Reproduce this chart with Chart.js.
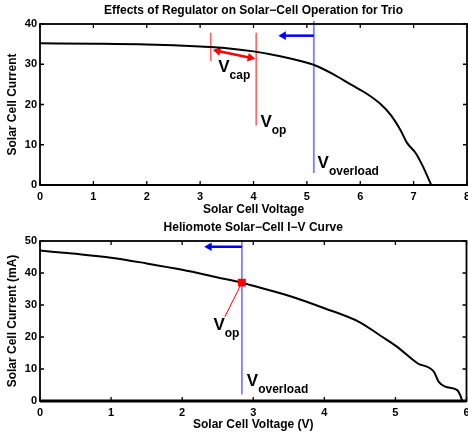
<!DOCTYPE html>
<html lang="en">
<head>
<meta charset="UTF-8">
<title>Solar Cell I-V Curves</title>
<script src="https://cdn.jsdelivr.net/npm/chart.js"></script>
<style>
    html, body { margin: 0; background: #fff; overflow: hidden; }
    /* a bit wider than the window so the last tick label is cut like in the original */
    .panel { position: absolute; left: 0; width: 472px; }
    #top { top: 0; height: 220px; }
    #bottom { top: 220px; height: 219px; }
</style>
</head>
<body>
<div class="panel" id="top"><canvas id="trioChart"></canvas></div>
<div class="panel" id="bottom"><canvas id="heliChart"></canvas></div>
<script>
// --- Trio panel (top) ---
const trioVoltage = [0, 1, 2, 3, 3.5, 4, 4.5, 4.88, 5.16, 5.5, 5.82, 6.13, 6.38, 6.57, 6.75, 6.88, 7.04, 7.16, 7.33];
const trioCurrent = [35.2, 35.1, 34.9, 34.4, 34.0, 33.2, 32.0, 30.8, 29.7, 27.5, 25.0, 22.6, 20.1, 17.4, 13.7, 10.4, 7.9, 5.0, 0];
const trioCapV = [3.2, 3.2];          const trioCapI = [37.8, 30.8];
const trioOpV = [4.05, 4.05];         const trioOpI = [37.8, 14.8];
const trioOverV = [5.13, 5.13];       const trioOverI = [40.8, 3];
const trioArrowV = [5.13, 4.56];      const trioArrowI = [37.1, 37.1];
const trioSpanV = [3.33, 3.94];       const trioSpanI = [33.3, 31.6];
const trioLabelV = [3.34, 4.13, 5.2];
const trioLabelI = [28.1, 14.4, 4.2];
const trioLabelSub = ['cap', 'op', 'overload'];
const trioXTicks = [0, 8];            const trioYTicks = [0, 40];

// --- Heliomote panel (bottom) ---
const heliVoltage = [0, 0.5, 1, 1.5, 2, 2.5, 2.83, 3, 3.5, 4, 4.5, 4.79, 5.02, 5.31, 5.54, 5.61, 5.7, 5.87, 5.91, 5.94];
const heliCurrent = [47.0, 46.0, 44.8, 43.0, 41.0, 38.6, 37.0, 36.0, 32.9, 29.0, 24.6, 20.4, 17.0, 11.8, 9.2, 6.0, 4.5, 3.4, 1.9, 0];
const heliOpV = [2.84];               const heliOpI = [37.0];
const heliOverV = [2.84, 2.84];       const heliOverI = [50, 2];
const heliArrowV = [2.84, 2.38];      const heliArrowI = [48.2, 48.2];
const heliLeadV = [2.84, 2.6];        const heliLeadI = [37.0, 26.3];
const heliLabelV = [2.44, 2.91];
const heliLabelI = [22.2, 4.8];
const heliLabelSub = ['op', 'overload'];
const heliXTicks = [0, 6];            const heliYTicks = [0, 50];

const FONT = '"Liberation Sans", Arial, sans-serif';
const pts = (xs, ys) => xs.map((v, i) => ({ x: v, y: ys[i] }));

// box around the plot with inward tick marks
const framePlugin = {
    id: 'frame',
    afterDatasetsDraw(chart, args, opts) {
        const { ctx, chartArea: a, scales: { x, y } } = chart;
        ctx.save();
        ctx.strokeStyle = '#000';
        ctx.lineWidth = 1.3;
        ctx.beginPath();
        x.ticks.forEach(t => {
            const px = x.getPixelForValue(t.value);
            ctx.moveTo(px, a.bottom); ctx.lineTo(px, a.bottom - 4);
            ctx.moveTo(px, a.top); ctx.lineTo(px, a.top + 4);
        });
        y.ticks.forEach(t => {
            const py = y.getPixelForValue(t.value);
            ctx.moveTo(a.left, py); ctx.lineTo(a.left + 4, py);
            ctx.moveTo(a.right, py); ctx.lineTo(a.right - 4, py);
        });
        ctx.stroke();
        ctx.lineWidth = 1.8;
        ctx.strokeRect(a.left, a.top, a.right - a.left, a.bottom - a.top);
        ctx.lineWidth = opts.baseWidth || 2;
        ctx.beginPath();
        ctx.moveTo(a.left, a.bottom); ctx.lineTo(a.right, a.bottom);
        ctx.stroke();
        ctx.restore();
    }
};

// "V" with a subscript, placed in data coordinates
const subLabelPlugin = {
    id: 'subLabels',
    afterDatasetsDraw(chart, args, opts) {
        const { ctx, scales: { x, y } } = chart;
        ctx.save();
        ctx.fillStyle = '#000';
        ctx.textBaseline = 'alphabetic';
        ctx.textAlign = 'left';
        opts.xs.forEach((v, i) => {
            const px = x.getPixelForValue(v);
            const py = y.getPixelForValue(opts.ys[i]);
            ctx.font = 'bold 17px ' + FONT;
            ctx.fillText('V', px, py);
            const w = ctx.measureText('V').width;
            ctx.font = 'bold 12px ' + FONT;
            ctx.fillText(opts.subs[i], px + w, py + 7);
        });
        ctx.restore();
    }
};

function lineSet(data, color, width, extra) {
    return Object.assign({
        data: data,
        borderColor: color,
        backgroundColor: color,
        borderWidth: width,
        pointRadius: 0,
        fill: false
    }, extra || {});
}

function arrowSet(data, color, radii, rotations) {
    return lineSet(data, color, 2.5, {
        pointStyle: 'triangle',
        pointRadius: radii,
        pointRotation: rotations,
        pointBackgroundColor: color,
        pointBorderColor: color,
        pointBorderWidth: 0
    });
}

function makeOptions(cfg) {
    return {
        responsive: true,
        maintainAspectRatio: false,
        animation: false,
        layout: { padding: { left: 0, right: 2, top: 0, bottom: 0 } },
        plugins: {
            legend: { display: false },
            tooltip: { enabled: false },
            title: {
                display: true,
                fullSize: false,
                text: cfg.title,
                color: '#000',
                font: { family: FONT, size: 12, weight: 'bold' },
                padding: cfg.titlePad
            },
            frame: { baseWidth: cfg.baseWidth },
            subLabels: cfg.labels
        },
        scales: {
            x: {
                type: 'linear',
                min: cfg.xTicks[0], max: cfg.xTicks[1],
                grid: { display: false, drawTicks: false },
                border: { display: false },
                ticks: { stepSize: 1, padding: 5, color: '#000', font: { family: FONT, size: 11, weight: 'bold' } },
                title: {
                    display: true, text: cfg.xTitle, color: '#000',
                    font: { family: FONT, size: 12, weight: 'bold' },
                    padding: { top: 0, bottom: cfg.xTitleBottom }
                },
                afterFit(s) { s.height = cfg.xHeight; s.paddingLeft = 0; s.paddingRight = 0; }
            },
            y: {
                type: 'linear',
                min: cfg.yTicks[0], max: cfg.yTicks[1],
                grid: { display: false, drawTicks: false },
                border: { display: false },
                ticks: { stepSize: 10, padding: 3, color: '#000', font: { family: FONT, size: 11, weight: 'bold' } },
                title: {
                    display: true, text: cfg.yTitle, color: '#000',
                    font: { family: FONT, size: 12, weight: 'bold' },
                    padding: { top: 5.5, bottom: 0 }
                },
                afterFit(s) { s.width = 40; s.paddingTop = 0; s.paddingBottom = 0; }
            }
        }
    };
}

new Chart(document.getElementById('trioChart'), {
    type: 'line',
    data: {
        datasets: [
            lineSet(pts(trioVoltage, trioCurrent), '#000', 2, { cubicInterpolationMode: 'monotone' }),
            arrowSet(pts(trioSpanV, trioSpanI), '#ff0000', [5, 5], [282, 102]),
            arrowSet(pts(trioArrowV, trioArrowI), '#0000ff', [0, 5], [0, 270]),
            lineSet(pts(trioCapV, trioCapI), '#ff5c5c', 1.5),
            lineSet(pts(trioOpV, trioOpI), '#ff5c5c', 1.5),
            lineSet(pts(trioOverV, trioOverI), '#7d7dff', 1.8, { clip: false })
        ]
    },
    options: makeOptions({
        title: 'Effects of Regulator on Solar\u2212Cell Operation for Trio',
        titlePad: { top: 3.8, bottom: 5.8 },
        xTitle: 'Solar Cell Voltage',
        yTitle: 'Solar Cell Current',
        xTitleBottom: 2.8,
        xHeight: 35,
        xTicks: trioXTicks,
        yTicks: trioYTicks,
        baseWidth: 2,
        labels: { xs: trioLabelV, ys: trioLabelI, subs: trioLabelSub }
    }),
    plugins: [framePlugin, subLabelPlugin]
});

new Chart(document.getElementById('heliChart'), {
    type: 'line',
    data: {
        datasets: [
            lineSet(pts(heliOpV, heliOpI), '#ff0000', 1, {
                pointStyle: 'rect', pointRadius: 5.5,
                pointBackgroundColor: '#ff0000', pointBorderColor: '#ff0000', pointBorderWidth: 0
            }),
            lineSet(pts(heliVoltage, heliCurrent), '#000', 2, { cubicInterpolationMode: 'monotone' }),
            lineSet(pts(heliLeadV, heliLeadI), '#ff0000', 1),
            arrowSet(pts(heliArrowV, heliArrowI), '#0000ff', [0, 5], [0, 270]),
            lineSet(pts(heliOverV, heliOverI), '#7d7dff', 1.8)
        ]
    },
    options: makeOptions({
        title: 'Heliomote Solar\u2212Cell I\u2212V Curve',
        titlePad: { top: 0, bottom: 6.6 },
        xTitle: 'Solar Cell Voltage (V)',
        yTitle: 'Solar Cell Current (mA)',
        xTitleBottom: 6.8,
        xHeight: 38,
        xTicks: heliXTicks,
        yTicks: heliYTicks,
        baseWidth: 3,
        labels: { xs: heliLabelV, ys: heliLabelI, subs: heliLabelSub }
    }),
    plugins: [framePlugin, subLabelPlugin]
});
</script>
</body>
</html>
